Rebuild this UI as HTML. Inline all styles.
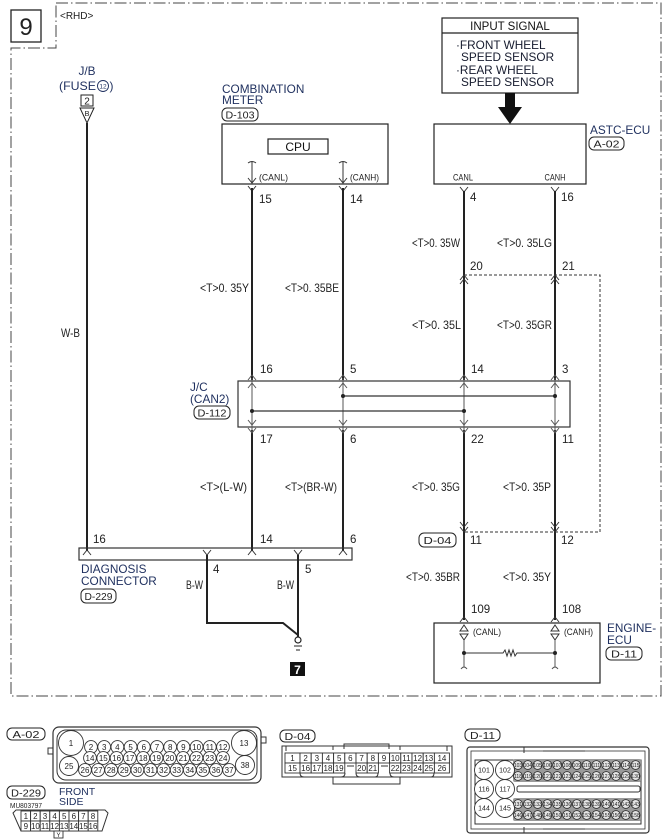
<!DOCTYPE html>
<html><head><meta charset="utf-8">
<style>
html,body{margin:0;padding:0;background:#fff;}
svg{display:block;}
text{font-family:"Liberation Sans",sans-serif;}
.l{font-size:11.8px;fill:#1e2f5e;}
.w{font-size:12px;fill:#222;}
.n{font-size:11.5px;fill:#222;}
.b{font-size:10px;fill:#222;}
.p{font-size:8px;fill:#222;}
.t{font-size:5px;fill:#222;}
</style></head><body>
<svg width="672" height="839" viewBox="0 0 672 839" xmlns="http://www.w3.org/2000/svg">
<!-- border -->
<path d="M56,3 H661 V696 H11 V48 H56 Z" fill="none" stroke="#444" stroke-width="1" stroke-dasharray="12,3,1.5,3"/>
<rect x="11" y="10" width="30" height="32" fill="none" stroke="#222" stroke-width="1.3"/>
<text x="26" y="35" font-size="24" text-anchor="middle" fill="#222">9</text>
<text x="60" y="19" font-size="10" fill="#222">&lt;RHD&gt;</text>

<!-- J/B -->
<text class="l" x="87" y="75" text-anchor="middle">J/B</text>
<text class="l" x="59" y="90" textLength="37" lengthAdjust="spacingAndGlyphs">(FUSE</text>
<circle cx="103" cy="86" r="5.5" fill="none" stroke="#1e2f5e" stroke-width="0.9"/>
<text x="103" y="88.5" font-size="6.5" text-anchor="middle" fill="#1e2f5e">12</text>
<text class="l" x="109.5" y="90">)</text>
<rect x="81" y="95" width="12" height="11" fill="none" stroke="#222" stroke-width="1"/>
<text x="87" y="104.5" font-size="10" text-anchor="middle" fill="#222">2</text>
<polygon points="80,108 94,108 87,123" fill="#fff" stroke="#222" stroke-width="1"/>
<text x="87" y="116" font-size="7.5" text-anchor="middle" fill="#222">B</text>
<line x1="87" y1="123" x2="87" y2="551" stroke="#222" stroke-width="2"/>
<text class="w" x="61" y="337" textLength="19" lengthAdjust="spacingAndGlyphs">W-B</text>

<!-- Combination meter -->
<text class="l" x="222" y="93">COMBINATION</text>
<text class="l" x="222" y="104">METER</text>
<rect x="222" y="108" width="36" height="13" rx="5" fill="none" stroke="#222" stroke-width="1"/>
<text class="b" x="240" y="118.5" text-anchor="middle" textLength="29" lengthAdjust="spacingAndGlyphs">D-103</text>
<rect x="222" y="124" width="166" height="60" fill="none" stroke="#222" stroke-width="1.2"/>
<rect x="268" y="139" width="60" height="15" fill="none" stroke="#222" stroke-width="1.2"/>
<text x="298" y="151" font-size="12" text-anchor="middle" fill="#111">CPU</text>
<g stroke="#333" stroke-width="1" fill="none">
<path d="M248,163 Q252,160 256,163 M252,162 V184"/>
<path d="M339,163 Q343,160 347,163 M343,162 V184"/>
<path d="M248,178 L252,183 L256,178 M248,186 L252,191 L256,186"/>
<path d="M339,178 L343,183 L347,178 M339,186 L343,191 L347,186"/>
</g>
<text x="259" y="180.5" font-size="9" fill="#222" textLength="29" lengthAdjust="spacingAndGlyphs">(CANL)</text>
<text x="350" y="180.5" font-size="9" fill="#222" textLength="29" lengthAdjust="spacingAndGlyphs">(CANH)</text>
<text class="n" x="259" y="203">15</text>
<text class="n" x="350" y="203">14</text>

<!-- Input signal / ASTC -->
<rect x="442" y="18" width="136" height="75" fill="none" stroke="#222" stroke-width="1.2"/>
<line x1="442" y1="33" x2="578" y2="33" stroke="#222" stroke-width="1.2"/>
<text x="510" y="30" font-size="11.5" text-anchor="middle" fill="#111">INPUT SIGNAL</text>
<text x="456" y="49" font-size="11.8" fill="#161b2e">·FRONT WHEEL</text>
<text x="461" y="61" font-size="11.8" fill="#161b2e">SPEED SENSOR</text>
<text x="456" y="74" font-size="11.8" fill="#161b2e">·REAR WHEEL</text>
<text x="461" y="86" font-size="11.8" fill="#161b2e">SPEED SENSOR</text>
<rect x="505" y="93" width="10" height="15" fill="#111"/>
<polygon points="498,107 522,107 510,124" fill="#111"/>
<rect x="434" y="124" width="152" height="60" fill="none" stroke="#222" stroke-width="1.2"/>
<text x="463" y="180.5" font-size="9" text-anchor="middle" fill="#222" textLength="20" lengthAdjust="spacingAndGlyphs">CANL</text>
<text x="555" y="180.5" font-size="9" text-anchor="middle" fill="#222" textLength="21" lengthAdjust="spacingAndGlyphs">CANH</text>
<text class="l" x="590" y="134">ASTC-ECU</text>
<rect x="589" y="137" width="35" height="13" rx="5" fill="none" stroke="#222" stroke-width="1"/>
<text class="b" x="606.5" y="147.5" text-anchor="middle" textLength="26" lengthAdjust="spacingAndGlyphs">A-02</text>
<g stroke="#333" stroke-width="1" fill="none">
<path d="M460,187 L464,192 L468,187 M551,187 L555,192 L559,187"/>
</g>
<text class="n" x="470" y="201">4</text>
<text class="n" x="561" y="201">16</text>

<!-- main wires -->
<g stroke="#222" stroke-width="2">
<line x1="252" y1="188" x2="252" y2="380"/>
<line x1="343" y1="188" x2="343" y2="380"/>
<line x1="464" y1="191" x2="464" y2="380"/>
<line x1="555" y1="191" x2="555" y2="380"/>
<line x1="252" y1="430" x2="252" y2="551"/>
<line x1="343" y1="430" x2="343" y2="551"/>
<line x1="464" y1="430" x2="464" y2="620"/>
<line x1="555" y1="430" x2="555" y2="620"/>
</g>

<!-- upper wire labels -->
<text class="w" x="412" y="247" textLength="48" lengthAdjust="spacingAndGlyphs">&lt;T&gt;0. 35W</text>
<text class="w" x="497" y="247" textLength="55" lengthAdjust="spacingAndGlyphs">&lt;T&gt;0. 35LG</text>
<text class="n" x="470" y="270">20</text>
<text class="n" x="562" y="270">21</text>
<g stroke="#333" stroke-width="1" fill="none">
<path d="M460,280 L464,275 L468,280 M460,284 L464,279 L468,284"/>
<path d="M551,280 L555,275 L559,280 M551,284 L555,279 L559,284"/>
</g>
<path d="M464,275 H600 V532 H464" fill="none" stroke="#333" stroke-width="1" stroke-dasharray="3,2"/>
<text class="w" x="412" y="329" textLength="49" lengthAdjust="spacingAndGlyphs">&lt;T&gt;0. 35L</text>
<text class="w" x="497" y="329" textLength="55" lengthAdjust="spacingAndGlyphs">&lt;T&gt;0. 35GR</text>
<text class="w" x="200" y="292" textLength="49" lengthAdjust="spacingAndGlyphs">&lt;T&gt;0. 35Y</text>
<text class="w" x="285" y="292" textLength="54" lengthAdjust="spacingAndGlyphs">&lt;T&gt;0. 35BE</text>

<!-- J/C -->
<text class="n" x="260" y="373">16</text>
<text class="n" x="350" y="373">5</text>
<text class="n" x="471" y="373">14</text>
<text class="n" x="562" y="373">3</text>
<rect x="238" y="381" width="332" height="46" fill="none" stroke="#333" stroke-width="1.2"/>
<g stroke="#555" stroke-width="1" fill="none">
<line x1="252" y1="378" x2="252" y2="432"/>
<line x1="343" y1="378" x2="343" y2="432"/>
<line x1="464" y1="378" x2="464" y2="432"/>
<line x1="555" y1="378" x2="555" y2="432"/>
<path d="M248,380 L252,375 L256,380 M248,388 L252,383 L256,388"/>
<path d="M339,380 L343,375 L347,380 M339,388 L343,383 L347,388"/>
<path d="M460,380 L464,375 L468,380 M460,388 L464,383 L468,388"/>
<path d="M551,380 L555,375 L559,380 M551,388 L555,383 L559,388"/>
<path d="M248,420 L252,425 L256,420 M248,428 L252,433 L256,428"/>
<path d="M339,420 L343,425 L347,420 M339,428 L343,433 L347,428"/>
<path d="M460,420 L464,425 L468,420 M460,428 L464,433 L468,428"/>
<path d="M551,420 L555,425 L559,420 M551,428 L555,433 L559,428"/>
</g>
<line x1="343" y1="396" x2="555" y2="396" stroke="#333" stroke-width="1.2"/>
<line x1="252" y1="411" x2="464" y2="411" stroke="#333" stroke-width="1.2"/>
<circle cx="343" cy="396" r="2" fill="#222"/><circle cx="555" cy="396" r="2" fill="#222"/>
<circle cx="252" cy="411" r="2" fill="#222"/><circle cx="464" cy="411" r="2" fill="#222"/>
<text class="l" x="190" y="391">J/C</text>
<text class="l" x="190" y="403">(CAN2)</text>
<rect x="194" y="406" width="36" height="13" rx="5" fill="none" stroke="#222" stroke-width="1"/>
<text class="b" x="212" y="416.5" text-anchor="middle" textLength="29" lengthAdjust="spacingAndGlyphs">D-112</text>
<text class="n" x="260" y="443">17</text>
<text class="n" x="350" y="443">6</text>
<text class="n" x="471" y="443">22</text>
<text class="n" x="562" y="443">11</text>

<!-- lower labels -->
<text class="w" x="200" y="491" textLength="47" lengthAdjust="spacingAndGlyphs">&lt;T&gt;(L-W)</text>
<text class="w" x="285" y="491" textLength="52" lengthAdjust="spacingAndGlyphs">&lt;T&gt;(BR-W)</text>
<text class="w" x="412" y="491" textLength="48" lengthAdjust="spacingAndGlyphs">&lt;T&gt;0. 35G</text>
<text class="w" x="503" y="491" textLength="48" lengthAdjust="spacingAndGlyphs">&lt;T&gt;0. 35P</text>

<!-- D-04 junction -->
<g stroke="#333" stroke-width="1" fill="none">
<path d="M460,522 L464,527 L468,522 M460,527 L464,532 L468,527"/>
<path d="M551,522 L555,527 L559,522 M551,527 L555,532 L559,527"/>
</g>
<rect x="419" y="533" width="37" height="14" rx="5" fill="none" stroke="#222" stroke-width="1"/>
<text class="b" x="437.5" y="544" text-anchor="middle" textLength="28" lengthAdjust="spacingAndGlyphs">D-04</text>
<text class="n" x="470" y="544">11</text>
<text class="n" x="561" y="544">12</text>

<!-- Diagnosis connector -->
<text class="n" x="93" y="543">16</text>
<text class="n" x="260" y="543">14</text>
<text class="n" x="350" y="543">6</text>
<rect x="79" y="548" width="273" height="12" fill="none" stroke="#333" stroke-width="1.2"/>
<g stroke="#333" stroke-width="1" fill="none">
<path d="M83,555 L87,550 L91,555"/>
<path d="M248,555 L252,550 L256,555"/>
<path d="M339,555 L343,550 L347,555"/>
<path d="M203,550 L207,555 L211,550"/>
<path d="M294,550 L298,555 L302,550"/>
</g>
<path d="M207,555 V623 H283 L298,635" fill="none" stroke="#222" stroke-width="2"/>
<line x1="298" y1="555" x2="298" y2="637" stroke="#222" stroke-width="2"/>
<text class="n" x="213" y="573">4</text>
<text class="n" x="305" y="573">5</text>
<text class="w" x="186" y="589" textLength="17" lengthAdjust="spacingAndGlyphs">B-W</text>
<text class="w" x="277" y="589" textLength="17" lengthAdjust="spacingAndGlyphs">B-W</text>
<circle cx="298" cy="640" r="3" fill="#fff" stroke="#222" stroke-width="1.2"/>
<path d="M294,646 H302 M296,650 H300" stroke="#222" stroke-width="1"/>
<rect x="290" y="662" width="15" height="14" fill="#111"/>
<text x="297.5" y="674" font-size="12" font-weight="bold" text-anchor="middle" fill="#fff">7</text>
<text class="l" x="81" y="573">DIAGNOSIS</text>
<text class="l" x="81" y="585">CONNECTOR</text>
<rect x="81" y="589" width="35" height="14" rx="5" fill="none" stroke="#222" stroke-width="1"/>
<text class="b" x="98.5" y="600" text-anchor="middle" textLength="28" lengthAdjust="spacingAndGlyphs">D-229</text>

<!-- Engine ECU -->
<text class="w" x="406" y="581" textLength="54" lengthAdjust="spacingAndGlyphs">&lt;T&gt;0. 35BR</text>
<text class="w" x="503" y="581" textLength="48" lengthAdjust="spacingAndGlyphs">&lt;T&gt;0. 35Y</text>
<text class="n" x="471" y="613">109</text>
<text class="n" x="562" y="613">108</text>
<g stroke="#333" stroke-width="1" fill="none">
<path d="M460,622 L464,617 L468,622"/>
<path d="M551,622 L555,617 L559,622"/>
</g>
<rect x="434" y="623" width="166" height="60" fill="none" stroke="#222" stroke-width="1.2"/>
<g stroke="#333" stroke-width="1" fill="#fff">
<polygon points="460,631 468,631 464,625"/>
<polygon points="460,634 468,634 464,640"/>
<polygon points="551,631 559,631 555,625"/>
<polygon points="551,634 559,634 555,640"/>
</g>
<text x="473" y="635" font-size="9" fill="#222" textLength="28" lengthAdjust="spacingAndGlyphs">(CANL)</text>
<text x="564" y="635" font-size="9" fill="#222" textLength="29" lengthAdjust="spacingAndGlyphs">(CANH)</text>
<path d="M464,640 V667 M461,669 Q464,665 467,669 M555,640 V667 M552,669 Q555,665 558,669" fill="none" stroke="#555" stroke-width="1"/>
<path d="M464,653 H503 L505,650 L507,656 L509,650 L511,656 L513,650 L515,656 L517,653 H555" fill="none" stroke="#333" stroke-width="1"/>
<circle cx="464" cy="653" r="2" fill="#222"/><circle cx="555" cy="653" r="2" fill="#222"/>
<text class="l" x="607" y="632">ENGINE-</text>
<text class="l" x="607" y="644">ECU</text>
<rect x="606" y="647" width="36" height="13" rx="5" fill="none" stroke="#222" stroke-width="1"/>
<text class="b" x="624" y="657.5" text-anchor="middle" textLength="26" lengthAdjust="spacingAndGlyphs">D-11</text>

<!-- ===== A-02 connector ===== -->
<rect x="7" y="728" width="38" height="12" rx="5" fill="none" stroke="#222" stroke-width="1"/>
<text class="b" x="26" y="738" text-anchor="middle" textLength="27" lengthAdjust="spacingAndGlyphs">A-02</text>
<rect x="53" y="727" width="208" height="56" rx="6" fill="none" stroke="#333" stroke-width="1.2"/>
<rect x="57" y="730" width="200" height="50" rx="9" fill="none" stroke="#333" stroke-width="1"/>
<rect x="48" y="748" width="5" height="6" fill="none" stroke="#333" stroke-width="1"/>
<rect x="261" y="737" width="5" height="6" fill="none" stroke="#333" stroke-width="1"/>
<g stroke="#333" stroke-width="0.9" fill="#fff">
<circle cx="71" cy="743" r="12.5"/><circle cx="244" cy="743" r="12.5"/>
<circle cx="69" cy="766" r="9.5"/><circle cx="245" cy="765" r="9.5"/>
<circle cx="91" cy="747" r="6.4"/><circle cx="104.2" cy="747" r="6.4"/><circle cx="117.4" cy="747" r="6.4"/><circle cx="130.6" cy="747" r="6.4"/><circle cx="143.8" cy="747" r="6.4"/><circle cx="157" cy="747" r="6.4"/><circle cx="170.2" cy="747" r="6.4"/><circle cx="183.4" cy="747" r="6.4"/><circle cx="196.6" cy="747" r="6.4"/><circle cx="209.8" cy="747" r="6.4"/><circle cx="223" cy="747" r="6.4"/>
<circle cx="90" cy="758" r="6.4"/><circle cx="103.3" cy="758" r="6.4"/><circle cx="116.6" cy="758" r="6.4"/><circle cx="129.9" cy="758" r="6.4"/><circle cx="143.2" cy="758" r="6.4"/><circle cx="156.5" cy="758" r="6.4"/><circle cx="169.8" cy="758" r="6.4"/><circle cx="183.1" cy="758" r="6.4"/><circle cx="196.4" cy="758" r="6.4"/><circle cx="209.7" cy="758" r="6.4"/><circle cx="223" cy="758" r="6.4"/>
<circle cx="85" cy="770" r="6.4"/><circle cx="98.1" cy="770" r="6.4"/><circle cx="111.2" cy="770" r="6.4"/><circle cx="124.3" cy="770" r="6.4"/><circle cx="137.4" cy="770" r="6.4"/><circle cx="150.5" cy="770" r="6.4"/><circle cx="163.6" cy="770" r="6.4"/><circle cx="176.7" cy="770" r="6.4"/><circle cx="189.8" cy="770" r="6.4"/><circle cx="202.9" cy="770" r="6.4"/><circle cx="216" cy="770" r="6.4"/><circle cx="229.1" cy="770" r="6.4"/>
</g>
<g class="p" text-anchor="middle">
<text x="71" y="746" font-size="8">1</text><text x="244" y="746" font-size="8">13</text>
<text x="69" y="769" font-size="8">25</text><text x="245" y="768" font-size="8">38</text>
<text x="91" y="750">2</text><text x="104.2" y="750">3</text><text x="117.4" y="750">4</text><text x="130.6" y="750">5</text><text x="143.8" y="750">6</text><text x="157" y="750">7</text><text x="170.2" y="750">8</text><text x="183.4" y="750">9</text><text x="196.6" y="750">10</text><text x="209.8" y="750">11</text><text x="223" y="750">12</text>
<text x="90" y="761">14</text><text x="103.3" y="761">15</text><text x="116.6" y="761">16</text><text x="129.9" y="761">17</text><text x="143.2" y="761">18</text><text x="156.5" y="761">19</text><text x="169.8" y="761">20</text><text x="183.1" y="761">21</text><text x="196.4" y="761">22</text><text x="209.7" y="761">23</text><text x="223" y="761">24</text>
<text x="85" y="773">26</text><text x="98.1" y="773">27</text><text x="111.2" y="773">28</text><text x="124.3" y="773">29</text><text x="137.4" y="773">30</text><text x="150.5" y="773">31</text><text x="163.6" y="773">32</text><text x="176.7" y="773">33</text><text x="189.8" y="773">34</text><text x="202.9" y="773">35</text><text x="216" y="773">36</text><text x="229.1" y="773">37</text>
</g>

<!-- ===== D-229 connector ===== -->
<rect x="7" y="786" width="38" height="13" rx="5" fill="none" stroke="#222" stroke-width="1"/>
<text class="b" x="26" y="796.5" text-anchor="middle" textLength="30" lengthAdjust="spacingAndGlyphs">D-229</text>
<text x="59" y="795" font-size="10.5" fill="#1e2f5e">FRONT</text>
<text x="59" y="805" font-size="10.5" fill="#1e2f5e">SIDE</text>
<text x="10" y="808" font-size="7" fill="#222" textLength="32" lengthAdjust="spacingAndGlyphs">MU803797</text>
<path d="M16,810 H105 L108,813 L102,831 H21 L13,813 Z" fill="none" stroke="#333" stroke-width="1"/>
<g stroke="#333" stroke-width="0.9" fill="#fff">
<rect x="21" y="811" width="9.6" height="10"/><rect x="30.6" y="811" width="9.6" height="10"/><rect x="40.2" y="811" width="9.6" height="10"/><rect x="49.8" y="811" width="9.6" height="10"/><rect x="59.4" y="811" width="9.6" height="10"/><rect x="69" y="811" width="9.6" height="10"/><rect x="78.6" y="811" width="9.6" height="10"/><rect x="88.2" y="811" width="9.6" height="10"/>
<rect x="21" y="821" width="9.6" height="10"/><rect x="30.6" y="821" width="9.6" height="10"/><rect x="40.2" y="821" width="9.6" height="10"/><rect x="49.8" y="821" width="9.6" height="10"/><rect x="59.4" y="821" width="9.6" height="10"/><rect x="69" y="821" width="9.6" height="10"/><rect x="78.6" y="821" width="9.6" height="10"/><rect x="88.2" y="821" width="9.6" height="10"/>
<rect x="54" y="831" width="9" height="7"/>
</g>
<g class="p" text-anchor="middle">
<text x="25.8" y="819">1</text><text x="35.4" y="819">2</text><text x="45" y="819">3</text><text x="54.6" y="819">4</text><text x="64.2" y="819">5</text><text x="73.8" y="819">6</text><text x="83.4" y="819">7</text><text x="93" y="819">8</text>
<text x="25.8" y="829">9</text><text x="35.4" y="829">10</text><text x="45" y="829">11</text><text x="54.6" y="829">12</text><text x="64.2" y="829">13</text><text x="73.8" y="829">14</text><text x="83.4" y="829">15</text><text x="93" y="829">16</text>
<text x="58.5" y="837" font-size="6">Y</text>
</g>

<!-- ===== D-04 connector ===== -->
<rect x="280" y="730" width="35" height="12" rx="5" fill="none" stroke="#222" stroke-width="1"/>
<text class="b" x="297.5" y="740" text-anchor="middle" textLength="26" lengthAdjust="spacingAndGlyphs">D-04</text>
<rect x="282" y="746" width="170" height="31" fill="none" stroke="#333" stroke-width="1"/>
<path d="M344,749 V744 H389 V749 M333,777 V784 H400 V777" fill="none" stroke="#333" stroke-width="1"/>
<path d="M286,746 V751 M333,746 V750 M400,746 V750 M447,746 V751" stroke="#333" stroke-width="1"/>
<g stroke="#333" stroke-width="0.9" fill="#fff">
<rect x="285" y="753" width="15" height="10"/><rect x="300" y="753" width="11.2" height="10"/><rect x="311.2" y="753" width="11.2" height="10"/><rect x="322.4" y="753" width="11.2" height="10"/><rect x="333.6" y="753" width="11.2" height="10"/><rect x="344.8" y="753" width="11.2" height="10"/><rect x="356" y="753" width="11.2" height="10"/><rect x="367.2" y="753" width="11.2" height="10"/><rect x="378.4" y="753" width="11.2" height="10"/><rect x="389.6" y="753" width="11.2" height="10"/><rect x="400.8" y="753" width="11.2" height="10"/><rect x="412" y="753" width="11.2" height="10"/><rect x="423.2" y="753" width="11.2" height="10"/><rect x="434.4" y="753" width="15" height="10"/>
<rect x="285" y="763" width="15" height="10"/><rect x="300" y="763" width="11.2" height="10"/><rect x="311.2" y="763" width="11.2" height="10"/><rect x="322.4" y="763" width="11.2" height="10"/><rect x="333.6" y="763" width="11.2" height="10"/>
<rect x="356" y="763" width="11.2" height="10"/><rect x="367.2" y="763" width="11.2" height="10"/>
<rect x="389.6" y="763" width="11.2" height="10"/><rect x="400.8" y="763" width="11.2" height="10"/><rect x="412" y="763" width="11.2" height="10"/><rect x="423.2" y="763" width="11.2" height="10"/><rect x="434.4" y="763" width="15" height="10"/>
</g>
<path d="M300,773 Q300,777 304,777 H341 Q345,777 345,773 M356,773 Q356,777 360,777 H375 Q378,777 378,773 M390,773 Q390,777 394,777 H431 Q434,777 434,773 M347,766 H354 M381,766 H388" fill="none" stroke="#333" stroke-width="1"/>
<g class="p" text-anchor="middle">
<text x="292.5" y="761">1</text><text x="305.6" y="761">2</text><text x="316.8" y="761">3</text><text x="328" y="761">4</text><text x="339.2" y="761">5</text><text x="350.4" y="761">6</text><text x="361.6" y="761">7</text><text x="372.8" y="761">8</text><text x="384" y="761">9</text><text x="395.2" y="761">10</text><text x="406.4" y="761">11</text><text x="417.6" y="761">12</text><text x="428.8" y="761">13</text><text x="441.9" y="761">14</text>
<text x="292.5" y="771">15</text><text x="305.6" y="771">16</text><text x="316.8" y="771">17</text><text x="328" y="771">18</text><text x="339.2" y="771">19</text>
<text x="361.6" y="771">20</text><text x="372.8" y="771">21</text>
<text x="395.2" y="771">22</text><text x="406.4" y="771">23</text><text x="417.6" y="771">24</text><text x="428.8" y="771">25</text><text x="441.9" y="771">26</text>
</g>

<!-- ===== D-11 connector ===== -->
<rect x="465" y="729" width="35" height="12" rx="5" fill="none" stroke="#222" stroke-width="1"/>
<text class="b" x="482.5" y="739" text-anchor="middle" textLength="25" lengthAdjust="spacingAndGlyphs">D-11</text>
<rect x="467" y="747" width="182" height="86" rx="3" fill="none" stroke="#333" stroke-width="1.2"/>
<rect x="471" y="751" width="174" height="78" fill="none" stroke="#333" stroke-width="0.8"/>
<path d="M524,747 V753 M543,751 H585 M524,833 V827 M543,829 H585" stroke="#333" stroke-width="1" fill="none"/>
<rect x="475" y="760" width="166" height="64" fill="none" stroke="#333" stroke-width="1"/>
<rect x="513" y="759" width="128" height="23" rx="2" fill="#9a9a9a"/>
<rect x="513" y="798" width="128" height="23" rx="2" fill="#9a9a9a"/>
<rect x="517" y="786" width="123" height="6" rx="2" fill="#fff" stroke="#333" stroke-width="1"/>
<g stroke="#333" stroke-width="0.9" fill="#fff">
<circle cx="484" cy="770" r="9.5"/><circle cx="505" cy="770" r="9.5"/>
<circle cx="484" cy="789" r="9.5"/><circle cx="505" cy="789" r="9.5"/>
<circle cx="484" cy="808" r="9.5"/><circle cx="505" cy="808" r="9.5"/>
</g>
<g stroke="#222" stroke-width="0.8" fill="#e4e4e4">
<circle cx="518" cy="765" r="4.4"/><circle cx="527.8" cy="765" r="4.4"/><circle cx="537.6" cy="765" r="4.4"/><circle cx="547.4" cy="765" r="4.4"/><circle cx="557.2" cy="765" r="4.4"/><circle cx="567" cy="765" r="4.4"/><circle cx="576.8" cy="765" r="4.4"/><circle cx="586.6" cy="765" r="4.4"/><circle cx="596.4" cy="765" r="4.4"/><circle cx="606.2" cy="765" r="4.4"/><circle cx="616" cy="765" r="4.4"/><circle cx="625.8" cy="765" r="4.4"/><circle cx="635.6" cy="765" r="4.4"/>
<circle cx="518" cy="776" r="4.4"/><circle cx="527.8" cy="776" r="4.4"/><circle cx="537.6" cy="776" r="4.4"/><circle cx="547.4" cy="776" r="4.4"/><circle cx="557.2" cy="776" r="4.4"/><circle cx="567" cy="776" r="4.4"/><circle cx="576.8" cy="776" r="4.4"/><circle cx="586.6" cy="776" r="4.4"/><circle cx="596.4" cy="776" r="4.4"/><circle cx="606.2" cy="776" r="4.4"/><circle cx="616" cy="776" r="4.4"/><circle cx="625.8" cy="776" r="4.4"/><circle cx="635.6" cy="776" r="4.4"/>
<circle cx="518" cy="804" r="4.4"/><circle cx="527.8" cy="804" r="4.4"/><circle cx="537.6" cy="804" r="4.4"/><circle cx="547.4" cy="804" r="4.4"/><circle cx="557.2" cy="804" r="4.4"/><circle cx="567" cy="804" r="4.4"/><circle cx="576.8" cy="804" r="4.4"/><circle cx="586.6" cy="804" r="4.4"/><circle cx="596.4" cy="804" r="4.4"/><circle cx="606.2" cy="804" r="4.4"/><circle cx="616" cy="804" r="4.4"/><circle cx="625.8" cy="804" r="4.4"/><circle cx="635.6" cy="804" r="4.4"/>
<circle cx="518" cy="815" r="4.4"/><circle cx="527.8" cy="815" r="4.4"/><circle cx="537.6" cy="815" r="4.4"/><circle cx="547.4" cy="815" r="4.4"/><circle cx="557.2" cy="815" r="4.4"/><circle cx="567" cy="815" r="4.4"/><circle cx="576.8" cy="815" r="4.4"/><circle cx="586.6" cy="815" r="4.4"/><circle cx="596.4" cy="815" r="4.4"/><circle cx="606.2" cy="815" r="4.4"/><circle cx="616" cy="815" r="4.4"/><circle cx="625.8" cy="815" r="4.4"/><circle cx="635.6" cy="815" r="4.4"/>
</g>
<g class="p" text-anchor="middle" font-size="7">
<text x="484" y="772.5" font-size="7">101</text><text x="505" y="772.5" font-size="7">102</text>
<text x="484" y="791.5" font-size="7">116</text><text x="505" y="791.5" font-size="7">117</text>
<text x="484" y="810.5" font-size="7">144</text><text x="505" y="810.5" font-size="7">145</text>
</g>
<g class="t" text-anchor="middle">
<text x="518" y="767">103</text><text x="527.8" y="767">104</text><text x="537.6" y="767">105</text><text x="547.4" y="767">106</text><text x="557.2" y="767">107</text><text x="567" y="767">108</text><text x="576.8" y="767">109</text><text x="586.6" y="767">110</text><text x="596.4" y="767">111</text><text x="606.2" y="767">112</text><text x="616" y="767">113</text><text x="625.8" y="767">114</text><text x="635.6" y="767">115</text>
<text x="518" y="778">118</text><text x="527.8" y="778">119</text><text x="537.6" y="778">120</text><text x="547.4" y="778">121</text><text x="557.2" y="778">122</text><text x="567" y="778">123</text><text x="576.8" y="778">124</text><text x="586.6" y="778">125</text><text x="596.4" y="778">126</text><text x="606.2" y="778">127</text><text x="616" y="778">128</text><text x="625.8" y="778">129</text><text x="635.6" y="778">130</text>
<text x="518" y="806">131</text><text x="527.8" y="806">132</text><text x="537.6" y="806">133</text><text x="547.4" y="806">134</text><text x="557.2" y="806">135</text><text x="567" y="806">136</text><text x="576.8" y="806">137</text><text x="586.6" y="806">138</text><text x="596.4" y="806">139</text><text x="606.2" y="806">140</text><text x="616" y="806">141</text><text x="625.8" y="806">142</text><text x="635.6" y="806">143</text>
<text x="518" y="817">146</text><text x="527.8" y="817">147</text><text x="537.6" y="817">148</text><text x="547.4" y="817">149</text><text x="557.2" y="817">150</text><text x="567" y="817">151</text><text x="576.8" y="817">152</text><text x="586.6" y="817">153</text><text x="596.4" y="817">154</text><text x="606.2" y="817">155</text><text x="616" y="817">156</text><text x="625.8" y="817">157</text><text x="635.6" y="817">158</text>
</g>
</svg>
</body></html>
